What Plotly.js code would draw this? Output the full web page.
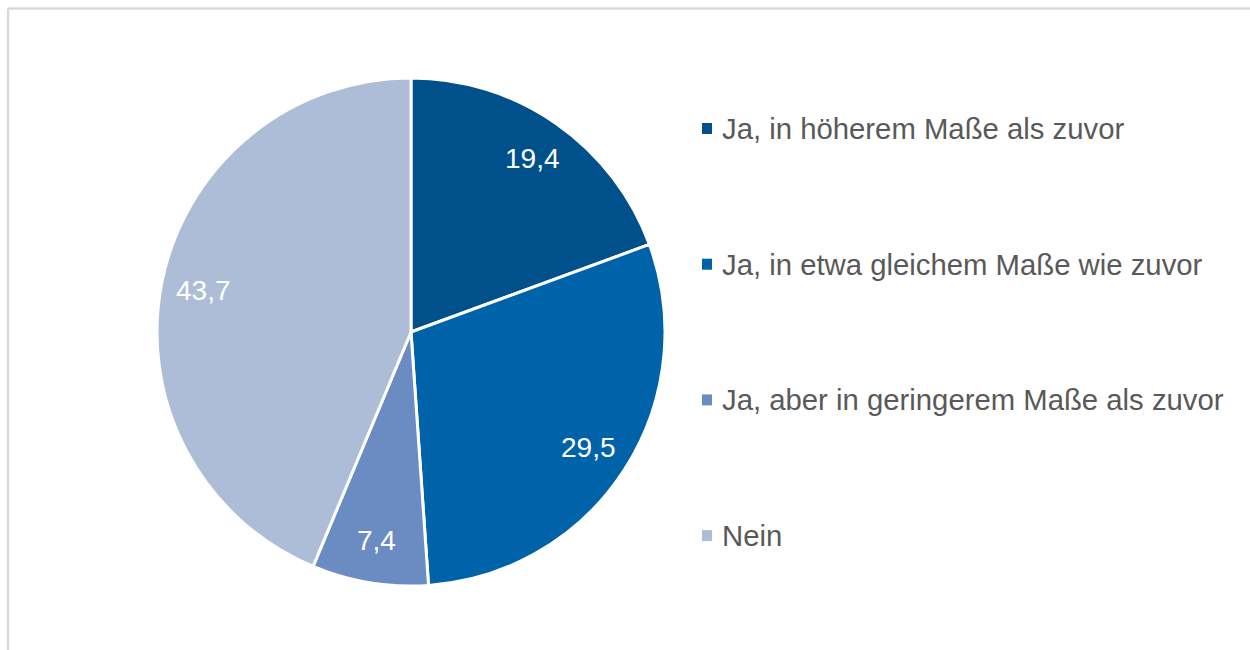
<!DOCTYPE html>
<html>
<head>
<meta charset="utf-8">
<script src="https://cdn.plot.ly/plotly-3.0.1.min.js"></script>
<style>
html,body{margin:0;padding:0;background:#fff;}
#chart{width:1250px;height:650px;}
</style>
</head>
<body>
<div id="chart"></div>
<script>
const categories = [
  "Ja, in höherem Maße als zuvor",
  "Ja, in etwa gleichem Maße wie zuvor",
  "Ja, aber in geringerem Maße als zuvor",
  "Nein"
];
const values = [19.4, 29.5, 7.4, 43.7];
const valueLabels = ["19,4", "29,5", "7,4", "43,7"];
const colors = ["#00508c", "#0062a9", "#6a8cc2", "#adbdd8"];

const W = 1250, H = 650;
const cx = 411, cy = 332, R = 252;
const FONT = "Liberation Sans, Arial, Helvetica, sans-serif";

const pie = {
  type: "pie",
  values: values,
  labels: categories,
  sort: false,
  direction: "clockwise",
  rotation: 0,
  textinfo: "none",
  hoverinfo: "label+value",
  marker: {colors: colors, line: {color: "#ffffff", width: 3}},
  domain: {x: [(cx - R - 2) / W, (cx + R + 2) / W], y: [(H - cy - R - 2) / H, (H - cy + R + 2) / H]},
  showlegend: false
};

// data labels placed at mid-angle of each slice
const total = values.reduce((a, b) => a + b, 0);
const annotations = [];
let cum = 0;
values.forEach((v, i) => {
  const mid = (cum + v / 2) / total * 2 * Math.PI;
  cum += v;
  const rr = 0.84 * R;
  const px = cx + rr * Math.sin(mid);
  const py = cy - rr * Math.cos(mid);
  annotations.push({
    xref: "paper", yref: "paper",
    x: px / W, y: 1 - py / H,
    xanchor: "center", yanchor: "middle",
    text: valueLabels[i], showarrow: false,
    font: {family: FONT, size: 28, color: "#ffffff"}
  });
});

// custom legend
const shapes = [];
const legX = 707, legTop = 128.5, legStep = 135.7;
categories.forEach((c, i) => {
  const y = legTop + i * legStep;
  shapes.push({
    type: "rect", xref: "paper", yref: "paper",
    x0: (legX - 5) / W, x1: (legX + 5) / W,
    y0: 1 - (y + 5.5) / H, y1: 1 - (y - 5.5) / H,
    fillcolor: colors[i], line: {width: 0}
  });
  annotations.push({
    xref: "paper", yref: "paper",
    x: (legX + 13) / W, y: 1 - y / H,
    xanchor: "left", yanchor: "middle",
    text: c, showarrow: false,
    font: {family: FONT, size: 29.3, color: "#595959"}
  });
});

// chart area border (top and left visible)
shapes.push({type: "line", xref: "paper", yref: "paper",
  x0: 8 / W, y0: 0, x1: 8 / W, y1: 1 - 8.5 / H,
  line: {color: "#d9d9d9", width: 2.5}});
shapes.push({type: "line", xref: "paper", yref: "paper",
  x0: 8 / W, y0: 1 - 8.5 / H, x1: 1, y1: 1 - 8.5 / H,
  line: {color: "#d9d9d9", width: 2.5}});

const layout = {
  width: W, height: H,
  margin: {l: 0, r: 0, t: 0, b: 0},
  paper_bgcolor: "#ffffff",
  plot_bgcolor: "#ffffff",
  showlegend: false,
  annotations: annotations,
  shapes: shapes,
  font: {family: FONT}
};

Plotly.newPlot("chart", [pie], layout, {displayModeBar: false, staticPlot: true});
</script>
</body>
</html>
